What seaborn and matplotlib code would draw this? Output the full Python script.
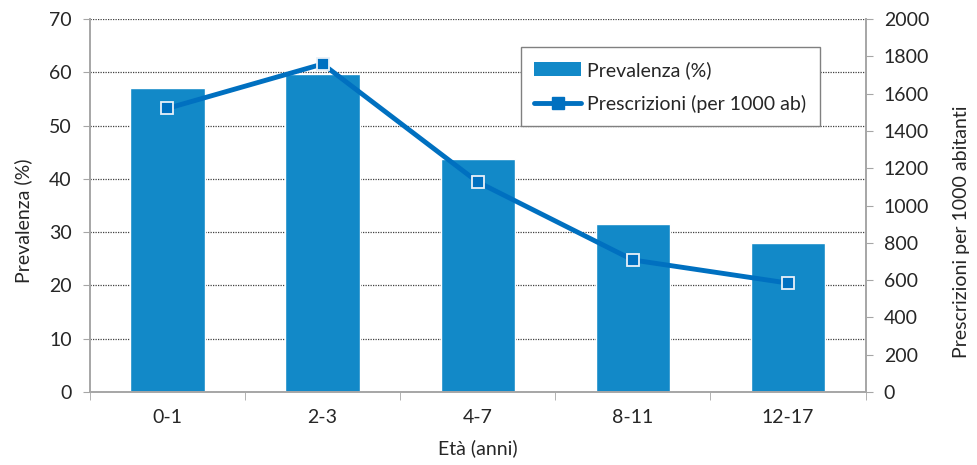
import numpy as np
import matplotlib
matplotlib.use('Agg')
import matplotlib.pyplot as plt
import seaborn as sns
from matplotlib.lines import Line2D
from matplotlib.patches import Patch

# dati
eta = ['0-1', '2-3', '4-7', '8-11', '12-17']
prevalenza = [57.0, 59.6, 43.7, 31.6, 28.0]
prescrizioni = [1521, 1759, 1126, 708, 584]

sns.set_style('white')
plt.rcParams['font.family'] = ['Lato', 'DejaVu Sans']

col_barre = '#1289C8'
col_linea = '#0070C0'
grigio = '#A6A6A6'
fs = 14

fig = plt.figure(figsize=(9.77, 4.65), dpi=100)
ax = fig.add_axes([0.092, 0.157, 0.794, 0.802])

sns.barplot(x=eta, y=prevalenza, color=col_barre, saturation=1, width=0.48, ax=ax)
ax.set_ylim(0, 70)
ax.set_yticks(range(0, 71, 10))
ax.set_xlim(-0.5, len(eta) - 0.5)
ax.yaxis.grid(True, color='#404040', linestyle=(0, (1, 1)), linewidth=0.9)
ax.set_axisbelow(True)

ax.set_ylabel('Prevalenza (%)', fontsize=fs)
ax.yaxis.set_label_coords(-0.075, 0.46)
ax.set_xlabel('Età (anni)', fontsize=fs, labelpad=10)
ax.tick_params(axis='y', labelsize=fs, length=5, color=grigio, direction='out', left=True, pad=8)
ax.tick_params(axis='x', labelsize=fs, length=0, pad=12)
ax.set_xticks(np.arange(-0.5, len(eta)), minor=True)
ax.tick_params(axis='x', which='minor', length=6, color=grigio, direction='out', bottom=True)

for s in ['left', 'bottom', 'right']:
    ax.spines[s].set_color(grigio)
    ax.spines[s].set_linewidth(1.2)
ax.spines['top'].set_visible(False)

ax2 = ax.twinx()
x = np.arange(len(eta))
sns.lineplot(x=x, y=prescrizioni, color=col_linea, linewidth=3.5, marker='s', markersize=9,
             markerfacecolor=col_linea, markeredgecolor='#E8F0F8', markeredgewidth=1.3, ax=ax2)
ax2.set_ylim(0, 2000)
ax2.set_yticks(range(0, 2001, 200))
ax2.set_ylabel('Prescrizioni per 1000 abitanti', fontsize=fs)
ax2.yaxis.set_label_coords(1.113, 0.43)
ax2.tick_params(axis='y', labelsize=fs, length=5, color=grigio, direction='out', right=True, pad=8)
for s in ['left', 'bottom', 'right']:
    ax2.spines[s].set_color(grigio)
    ax2.spines[s].set_linewidth(1.2)
ax2.spines['top'].set_visible(False)

handles = [Patch(facecolor=col_barre, edgecolor='none'),
           Line2D([0], [0], color=col_linea, linewidth=3.5, marker='s', markersize=8,
                  markerfacecolor=col_linea, markeredgecolor=col_linea)]
leg = ax2.legend(handles, ['Prevalenza (%)', 'Prescrizioni (per 1000 ab)'],
                 loc='upper left', bbox_to_anchor=(0.543, 0.95), fontsize=fs,
                 frameon=True, fancybox=False, edgecolor='#808080', framealpha=1,
                 handlelength=2.4, handletextpad=0.3, borderpad=0.7, labelspacing=0.8)
leg.get_frame().set_linewidth(1.0)

fig.savefig('out.png', dpi=100)
